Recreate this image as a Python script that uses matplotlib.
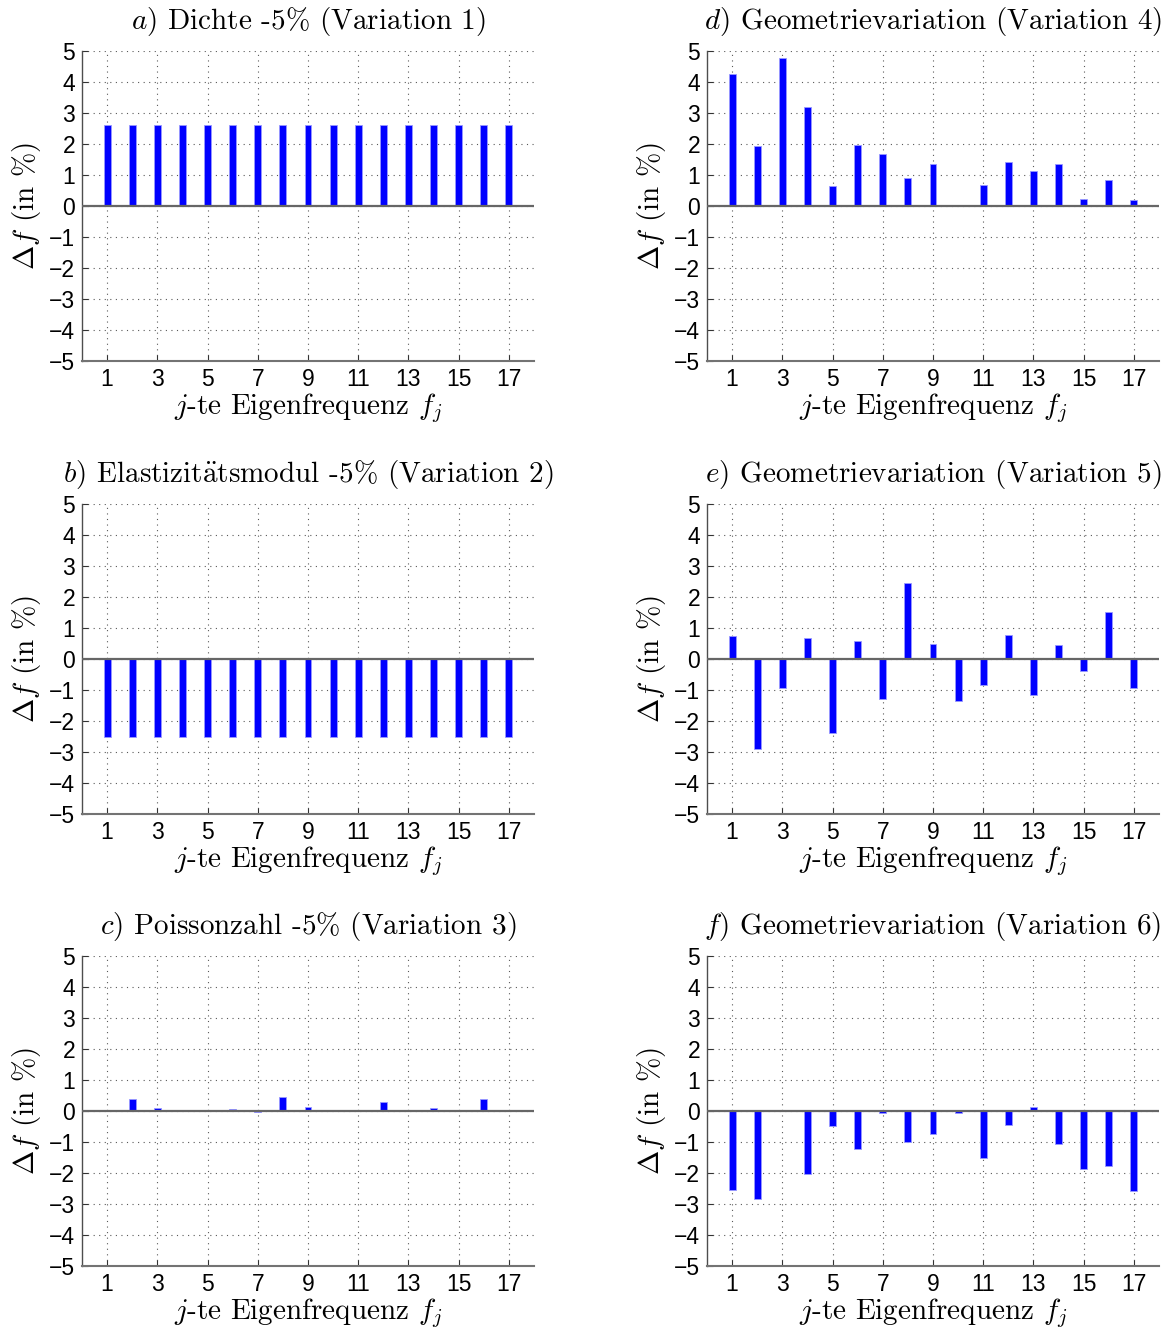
import matplotlib
matplotlib.use("Agg")
import matplotlib.pyplot as plt
import numpy as np

plt.rcParams['mathtext.fontset'] = 'cm'
plt.rcParams['axes.unicode_minus'] = True

modes = np.arange(1, 18)
xticks = [1, 3, 5, 7, 9, 11, 13, 15, 17]
yticks = [-5, -4, -3, -2, -1, 0, 1, 2, 3, 4, 5]

var1 = [2.60] * 17
var2 = [-2.53] * 17
var3 = [0.0, 0.38, 0.10, 0.0, 0.0, 0.06, -0.02, 0.45, 0.13, -0.01, 0.0,
        0.30, 0.03, 0.09, 0.0, 0.39, 0.04]
var4 = [4.25, 1.94, 4.78, 3.20, 0.65, 1.98, 1.68, 0.89, 1.35, 0.0, 0.68,
        1.41, 1.13, 1.37, 0.23, 0.83, 0.18]
var5 = [0.74, -2.90, -0.92, 0.68, -2.40, 0.59, -1.29, 2.45, 0.49, -1.37,
        -0.83, 0.76, -1.15, 0.45, -0.38, 1.52, -0.95]
var6 = [-2.55, -2.85, 0.0, -2.02, -0.49, -1.23, -0.08, -1.01, -0.74, -0.05,
        -1.51, -0.46, 0.14, -1.05, -1.87, -1.78, -2.58]

titles = [
    r"$a$) Dichte -5% (Variation 1)",
    r"$d$) Geometrievariation (Variation 4)",
    r"$b$) Elastizit$\ddot{\rm a}$tsmodul -5% (Variation 2)",
    r"$e$) Geometrievariation (Variation 5)",
    r"$c$) Poissonzahl -5% (Variation 3)",
    r"$f$) Geometrievariation (Variation 6)",
]
data = [var1, var4, var2, var5, var3, var6]

W, H = 1171, 1330
fig = plt.figure(figsize=(W / 100, H / 100), dpi=100)

lefts = [82, 707]
tops = [51, 504, 956]
aw, ah = 452, 310

serif = ['cmr10', 'DejaVu Serif']
tickfont = 'Liberation Sans'

for i, (vals, title) in enumerate(zip(data, titles)):
    row, col = divmod(i, 2)
    l = lefts[col]
    t = tops[row]
    ax = fig.add_axes([l / W, 1 - (t + ah) / H, aw / W, ah / H])
    ax.set_xlim(0, 18)
    ax.set_ylim(-5, 5)
    ax.set_xticks(xticks)
    ax.set_yticks(yticks)
    ax.grid(True, linestyle=(0, (1, 4)), color='0.35', linewidth=0.8)
    ax.set_axisbelow(True)
    ax.bar(modes, vals, width=0.27, color='#0000ff', edgecolor='#9999ff',
           linewidth=0.6, zorder=3)
    ax.axhline(0, color='0.4', linewidth=1.6, zorder=4)
    for s in ['top', 'right']:
        ax.spines[s].set_visible(False)
    ax.spines['left'].set_color('0.3')
    ax.spines['bottom'].set_color('0.45')
    ax.spines['left'].set_linewidth(1.0)
    ax.spines['bottom'].set_linewidth(1.5)
    ax.tick_params(direction='in', length=4, width=0.8, color='0.2',
                   labelsize=16.5, labelfontfamily=tickfont, pad=5)
    ax.set_title(title, family=serif, fontsize=21, pad=16)
    ax.set_xlabel(r"$j$-te Eigenfrequenz $f_j$", family=serif, fontsize=21,
                  labelpad=0)
    ax.set_ylabel(r"$\Delta f$ (in %)", family=serif, fontsize=21,
                  labelpad=4)

fig.savefig("out.png", dpi=100)
